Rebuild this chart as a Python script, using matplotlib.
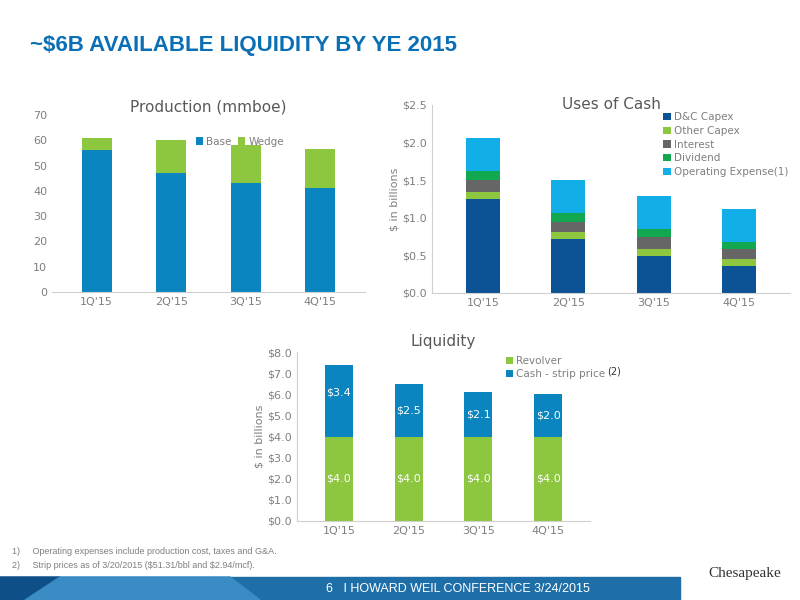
import matplotlib
matplotlib.use("Agg")
import matplotlib.pyplot as plt
import numpy as np
from matplotlib.patches import Polygon, Rectangle

quarters = ["1Q'15", "2Q'15", "3Q'15", "4Q'15"]
prod_base = [56, 47, 43, 41]
prod_wedge = [5, 13, 15, 15.5]
dc_capex = [1.25, 0.72, 0.49, 0.36]
other_capex = [0.09, 0.09, 0.09, 0.09]
interest = [0.16, 0.14, 0.17, 0.13]
dividend = [0.12, 0.11, 0.10, 0.10]
opex = [0.44, 0.44, 0.44, 0.44]
revolver = [4.0, 4.0, 4.0, 4.0]
cash_strip = [3.4, 2.5, 2.1, 2.0]

W, H = 800, 600
fig = plt.figure(figsize=(8, 6), dpi=100)
def ax_at(x0, y0, x1, y1):
    return fig.add_axes([x0 / W, 1 - y1 / H, (x1 - x0) / W, (y1 - y0) / H])

grey = "#7f7f7f"
dblue = "#0b5394"
pblue = "#0a85bf"
green = "#8dc63f"
dgrey = "#666666"
dgreen = "#12a84f"
lblue = "#12aee8"

def style(ax):
    for s in ["top", "right"]:
        ax.spines[s].set_visible(False)
    ax.spines["left"].set_color("#d0d0d0")
    ax.spines["bottom"].set_color("#d0d0d0")
    ax.tick_params(length=0, colors=grey, labelsize=8)

fig.text(30 / W, 1 - 45 / H, "~$6B AVAILABLE LIQUIDITY BY YE 2015", color="#0a6fb5",
         fontsize=16, fontweight="bold", va="center", family="Liberation Sans")

x = np.arange(4)
# Production
ax = ax_at(52, 115, 365, 292)
ax.bar(x, prod_base, 0.4, color=pblue, label="Base")
ax.bar(x, prod_wedge, 0.4, bottom=prod_base, color=green, label="Wedge")
ax.set_ylim(0, 70); ax.set_yticks(range(0, 71, 10))
ax.set_xticks(x, quarters); ax.set_xlim(-0.6, 3.6)
style(ax); ax.spines["left"].set_visible(False)
ax.set_title("Production (mmboe)", color="#595959", fontsize=11, pad=2)
ax.legend(loc="upper center", bbox_to_anchor=(0.6, 0.93), ncol=2, frameon=False, fontsize=7.5,
          handlelength=0.7, handleheight=0.7, columnspacing=0.6, handletextpad=0.3, labelcolor=grey)

# Uses of cash
ax = ax_at(432, 105, 790, 293)
series = [(dc_capex, dblue, "D&C Capex"), (other_capex, green, "Other Capex"),
          (interest, dgrey, "Interest"), (dividend, dgreen, "Dividend"),
          (opex, lblue, "Operating Expense(1)")]
bottom = np.zeros(4)
for vals, c, lab in series:
    ax.bar(x, vals, 0.4, bottom=bottom, color=c, label=lab)
    bottom += np.array(vals)
ax.set_ylim(0, 2.5); ax.set_yticks(np.arange(0, 2.51, 0.5))
ax.set_yticklabels([f"${v:.1f}" for v in np.arange(0, 2.51, 0.5)])
ax.set_xticks(x, quarters); ax.set_xlim(-0.6, 3.6)
style(ax)
ax.set_ylabel("$ in billions", color=grey, fontsize=8, labelpad=2)
ax.text(0.5, 1.0, "Uses of Cash", transform=ax.transAxes, ha="center", va="center",
        color="#595959", fontsize=11)
ax.legend(loc="upper left", bbox_to_anchor=(0.62, 1.01), frameon=False, fontsize=7.5,
          handlelength=0.7, handleheight=0.7, handletextpad=0.3, labelspacing=0.35, labelcolor=grey)

# Liquidity
ax = ax_at(297, 352, 590, 521)
ax.bar(x, revolver, 0.4, color=green, label="Revolver")
ax.bar(x, cash_strip, 0.4, bottom=revolver, color=pblue, label="Cash - strip price")
for i in range(4):
    ax.text(x[i], revolver[i] / 2, f"${revolver[i]:.1f}", ha="center", va="center", color="white", fontsize=8)
    ax.text(x[i], revolver[i] + cash_strip[i] / 2 + 0.4 * (i == 0), f"${cash_strip[i]:.1f}",
            ha="center", va="center", color="white", fontsize=8)
ax.set_ylim(0, 8); ax.set_yticks(range(0, 9))
ax.set_yticklabels([f"${v:.1f}" for v in range(0, 9)])
ax.set_xticks(x, quarters); ax.set_xlim(-0.6, 3.6)
style(ax)
ax.set_ylabel("$ in billions", color=grey, fontsize=8, labelpad=2)
ax.set_title("Liquidity", color="#595959", fontsize=11, pad=4)
ax.legend(loc="upper left", bbox_to_anchor=(0.68, 1.03), frameon=False, fontsize=7.5,
          handlelength=0.7, handleheight=0.7, handletextpad=0.3, labelspacing=0.3, labelcolor=grey)
fig.text(607 / W, 1 - 371 / H, "(2)", fontsize=7, color="#333333", va="center")

# footnotes
fig.text(12 / W, 1 - 552 / H, "1)     Operating expenses include production cost, taxes and G&A.",
         fontsize=6.5, color=grey, va="center", family="Liberation Sans")
fig.text(12 / W, 1 - 565 / H, r"2)     Strip prices as of 3/20/2015 (\$51.31/bbl and \$2.94/mcf).",
         fontsize=6.5, color=grey, va="center", family="Liberation Sans")

# footer banner
bax = fig.add_axes([0, 0, 1, 1], zorder=-1)
bax.set_xlim(0, W); bax.set_ylim(H, 0); bax.axis("off")
bax.add_patch(Rectangle((0, 577), 680, 23, color="#1e6fa8"))
bax.add_patch(Polygon([[0, 577], [60, 577], [25, 600], [0, 600]], color="#0d4f86"))
bax.add_patch(Polygon([[60, 577], [230, 577], [260, 600], [25, 600]], color="#3a8cc4"))
fig.text(590 / W, 1 - 589 / H, "6   I HOWARD WEIL CONFERENCE 3/24/2015", color="white",
         fontsize=9, ha="right", va="center", family="Liberation Sans")
fig.text(745 / W, 1 - 573 / H, "Chesapeake", color="#333333", fontsize=11, ha="center",
         va="center", family="Liberation Serif")

fig.savefig("out.png", dpi=100)
